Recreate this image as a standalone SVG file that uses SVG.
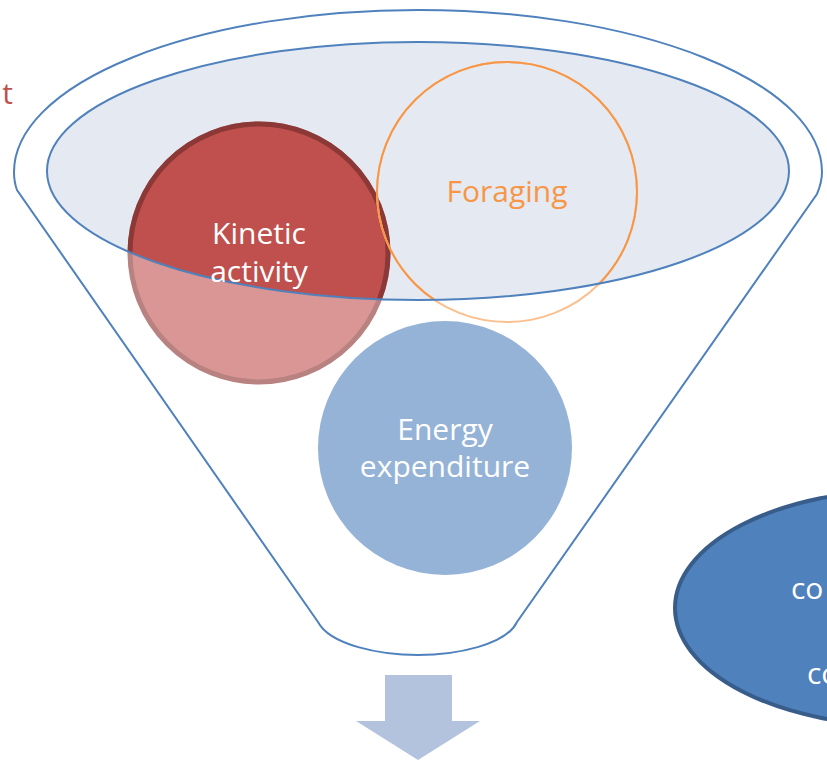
<svg xmlns="http://www.w3.org/2000/svg" width="827" height="765" viewBox="0 0 827 765">
<style>
.lbl{font-family:"Open Sans","Liberation Sans",sans-serif;font-size:30px;text-anchor:middle}
.w{fill:#FFFFFF}
.line{fill:none;stroke:#4F81BD;stroke-width:2}
</style>
<defs>
<clipPath id="inEll"><ellipse cx="418" cy="171" rx="371" ry="129"/></clipPath>
</defs>
<rect width="827" height="765" fill="#FFFFFF"/>
<g id="funnel">
<path class="line" d="M17,190 Q14,182 14,172 A404,162 0 0 1 822,172 Q822,182 817,194 L517,622 C506,645 456,655 418,655 C380,655 330,645 318,622 Z"/>
<ellipse cx="418" cy="171" rx="371" ry="129" fill="#E4E9F2"/>
</g>
<g id="kinetic">
<circle cx="259" cy="253" r="129" fill="#D99694" stroke="#B78280" stroke-width="5"/>
<circle cx="259" cy="253" r="129" fill="#C0504D" stroke="#8C3836" stroke-width="5" clip-path="url(#inEll)"/>
</g>
<g id="foraging">
<circle cx="507" cy="192" r="130" fill="none" stroke="#FAC08F" stroke-width="2"/>
<circle cx="507" cy="192" r="130" fill="none" stroke="#F79646" stroke-width="2" clip-path="url(#inEll)"/>
</g>
<ellipse class="line" cx="418" cy="171" rx="371" ry="129"/>
<text class="lbl w" x="259" y="244">Kinetic</text>
<text class="lbl w" x="259" y="282">activity</text>
<text class="lbl" x="507" y="202" fill="#F79646">Foraging</text>
<g id="energy">
<circle cx="445" cy="448" r="127" fill="#95B3D7"/>
<text class="lbl w" x="445" y="440">Energy</text>
<text class="lbl w" x="445" y="477">expenditure</text>
</g>
<g id="left-fragment">
<text class="lbl" x="13" y="104" style="text-anchor:end" fill="#C0504D">t</text>
</g>
<g id="right-ellipse">
<ellipse cx="905" cy="608" rx="230" ry="118" fill="#4F81BD" stroke="#385D8A" stroke-width="4"/>
<text class="lbl w" x="791" y="599" style="text-anchor:start">co</text>
<text class="lbl w" x="807" y="684" style="text-anchor:start">co</text>
</g>
<g id="connectors">
<polygon points="385,675 452,675 452,721 480,721 418,760 356,721 385,721" fill="#B3C3DE"/>
</g>
</svg>
